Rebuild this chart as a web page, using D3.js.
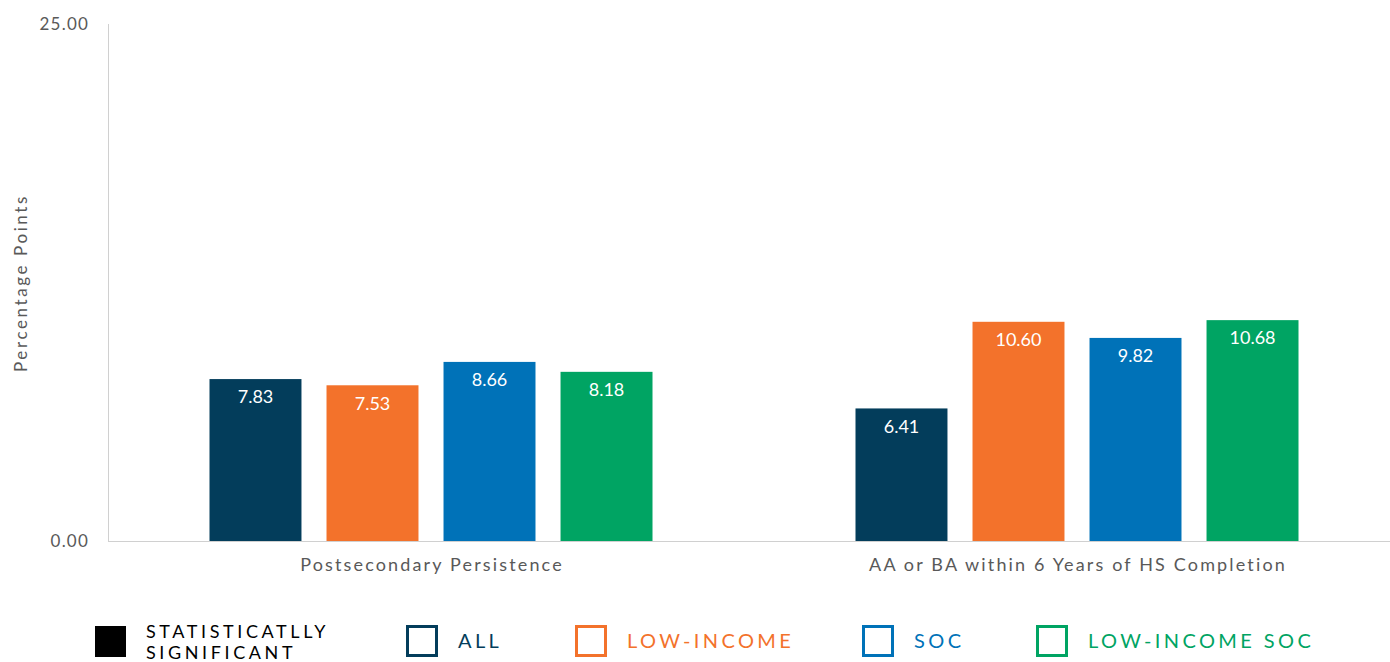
<!DOCTYPE html>
<html><head><meta charset="utf-8">
<script src="https://cdn.jsdelivr.net/npm/d3@7"></script>
<style>body{margin:0;background:#fff;}svg{display:block;font-family:Lato,"Open Sans",sans-serif;}</style>
</head><body>
<svg id="c" width="1390" height="662"></svg>
<script>
const categories = ["Postsecondary Persistence", "AA or BA within 6 Years of HS Completion"];
const seriesNames = ["ALL", "LOW-INCOME", "SOC", "LOW-INCOME SOC"];
const seriesColors = ["#033d5b", "#f3722b", "#0072b8", "#00a463"];
const valuesAll = [7.83, 6.41];
const valuesLowIncome = [7.53, 10.60];
const valuesSOC = [8.66, 9.82];
const valuesLowIncomeSOC = [8.18, 10.68];
const yTicks = [0, 25];

const seriesValues = [valuesAll, valuesLowIncome, valuesSOC, valuesLowIncomeSOC];
const svg = d3.select("#c");
const y = d3.scaleLinear().domain([0, 25]).range([541, 24]);
const x0 = d3.scaleBand().domain(categories).range([108, 1400]).paddingInner(0).paddingOuter(0);
const groupW = 443;
const x1 = d3.scaleBand().domain(seriesNames).range([0, groupW]).paddingInner(0.214).paddingOuter(0);

// axis line and baseline
svg.append("line").attr("x1",108.5).attr("x2",108.5).attr("y1",24).attr("y2",541).attr("stroke","#d0d0d0");
svg.append("line").attr("x1",108).attr("x2",1390).attr("y1",541.5).attr("y2",541.5).attr("stroke","#d0d0d0");

// y tick labels
svg.selectAll("text.yt").data(yTicks).join("text").attr("class","yt")
  .attr("x",89).attr("y",d=>y(d)).attr("dy","0.35em").attr("text-anchor","end")
  .attr("fill","#595959").attr("font-size",17).attr("letter-spacing","1.2px").text(d=>d3.format(".2f")(d));

// y title
svg.append("text").attr("transform","translate(27,283) rotate(-90)").attr("text-anchor","middle")
  .attr("fill","#595959").attr("font-size",17).attr("letter-spacing","2.6px").text("Percentage Points");

// category labels
svg.selectAll("text.cat").data(categories).join("text").attr("class","cat")
  .attr("x",d=>x0(d)+x0.bandwidth()/2+1).attr("y",571).attr("text-anchor","middle")
  .attr("fill","#595959").attr("font-size",18).attr("letter-spacing","2.15px").text(d=>d);

// bars
categories.forEach((c,ci)=>{
  const gx = x0(c) + (x0.bandwidth()-groupW)/2;
  seriesNames.forEach((s,si)=>{
    const v = seriesValues[si][ci];
    svg.append("rect").attr("x",gx+x1(s)).attr("y",y(v)).attr("width",x1.bandwidth())
      .attr("height",y(0)-y(v)).attr("fill",seriesColors[si]);
    svg.append("text").attr("x",gx+x1(s)+x1.bandwidth()/2).attr("y",y(v)+18).attr("dy","0.35em")
      .attr("text-anchor","middle").attr("fill","#fff").attr("font-size",18).text(d3.format(".2f")(v));
  });
});

// legend
svg.append("rect").attr("x",95).attr("y",626).attr("width",31).attr("height",31).attr("fill","#000");
svg.append("text").attr("x",146).attr("y",638).attr("font-size",18).attr("fill","#000")
  .attr("letter-spacing","3.6px").text("STATISTICATLLY");
svg.append("text").attr("x",146).attr("y",659).attr("font-size",18).attr("fill","#000")
  .attr("letter-spacing","3.6px").text("SIGNIFICANT");
const legX = [406, 575, 862, 1036];
seriesNames.forEach((s,i)=>{
  svg.append("rect").attr("x",legX[i]+1.5).attr("y",626.5).attr("width",29).attr("height",29)
    .attr("fill","none").attr("stroke",seriesColors[i]).attr("stroke-width",3);
  svg.append("text").attr("x",legX[i]+52).attr("y",641).attr("dy","0.35em").attr("font-size",20)
    .attr("fill",seriesColors[i]).attr("letter-spacing","3.4px").text(s);
});
</script>
</body></html>
